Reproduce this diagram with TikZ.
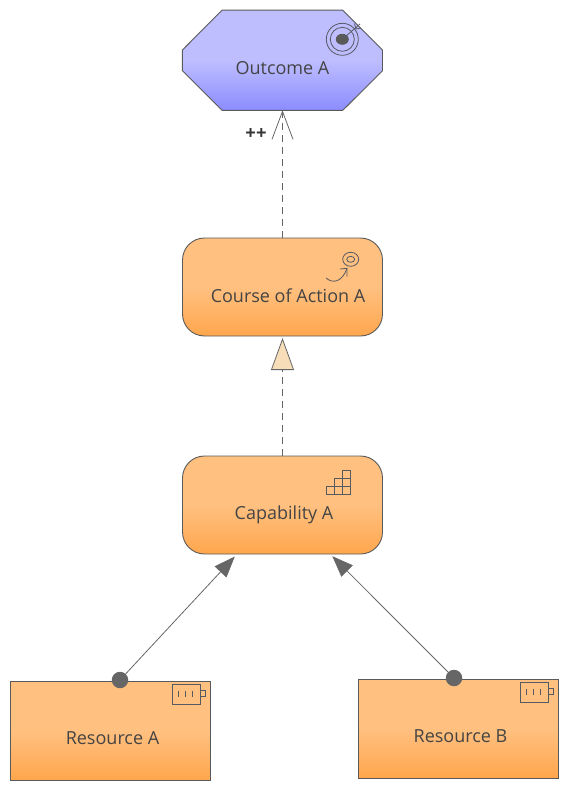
\documentclass[tikz,border=0pt]{standalone}
\usepackage{fontspec}
\setmainfont{Open Sans}
\usetikzlibrary{arrows.meta}
\definecolor{edgec}{HTML}{5A5A5A}
\definecolor{inkc}{HTML}{444444}
\definecolor{iconc}{HTML}{565A62}
\definecolor{orT}{HTML}{FFC080}
\definecolor{orB}{HTML}{FFA64D}
\definecolor{blT}{HTML}{BEBEFF}
\definecolor{blB}{HTML}{8C8CFF}
\definecolor{tri}{HTML}{F7DDB8}
\definecolor{dotc}{HTML}{666666}
\pgfdeclareverticalshading{orangeg}{100bp}{color(0bp)=(orB); color(25bp)=(orB); color(50bp)=(orT); color(100bp)=(orT)}
\pgfdeclareverticalshading{blueg}{100bp}{color(0bp)=(blB); color(25bp)=(blB); color(50bp)=(blT); color(100bp)=(blT)}
\tikzset{
  x=1pt,y=-1pt,
  element/.style={draw=edgec,line width=0.9pt,shade,shading=orangeg,minimum width=200pt,inner sep=0pt,outer sep=0pt},
  motivation/.style={element,rounded corners=22pt,minimum height=98pt},
  resource/.style={element,rectangle,minimum height=99pt},
  outcomebox/.style={rectangle,minimum width=200pt,minimum height=100pt,inner sep=0pt,outer sep=0pt},
  outcomeshape/.style={draw=edgec,line width=0.9pt,shade,shading=blueg},
  boxtext/.style={text=inkc,font=\fontsize{18}{20}\selectfont,inner sep=0pt,text height=12pt,text depth=4pt},
  iconline/.style={draw=iconc,line width=0.8pt},
  conn/.style={draw=dotc,line width=0.8pt},
  dashconn/.style={conn,dash pattern=on 7pt off 5pt},
  dotnode/.style={circle,fill=dotc,minimum size=16.5pt,inner sep=0pt},
  pics/battery/.style={code={
    \draw[iconline] (0,0) rectangle (28.5,20);
    \draw[iconline] (28.5,6) rectangle (33,12);
    \draw[iconline] (6,6.2) -- (6,12.2) (13,6.2) -- (13,12.2) (20,6.2) -- (20,12.2);
  }}
}
\begin{document}
\begin{tikzpicture}
\useasboundingbox (0,0) rectangle (578,800);
% elements
\path[outcomeshape] (222,10.2) -- (342.8,10.2) -- (382.5,50) -- (382.5,70.7) -- (342.8,110.3) -- (222,110.3) -- (182.4,70.7) -- (182.4,50) -- cycle;
\node[outcomebox,label={[boxtext,yshift=-10.3pt]center:Outcome A}] (outcome) at (282.5,60.2) {};
\node[motivation,label={[boxtext,xshift=5.5pt,yshift=-11pt]center:Course of Action A}] (course) at (282.5,287) {};
\node[motivation,label={[boxtext,xshift=1.5pt,yshift=-10.5pt]center:Capability A}] (capability) at (282.5,505) {};
\node[resource,label={[boxtext,xshift=2pt,yshift=-9.5pt]center:Resource A}] (resA) at (110.5,730.5) {};
\node[resource,label={[boxtext,xshift=2pt,yshift=-9.5pt]center:Resource B}] (resB) at (458.5,728.5) {};
% connector ends
\node[dotnode] (dotA) at (120,680) {};
\node[dotnode] (dotB) at (454,678) {};
\coordinate (capL) at (234.8,556.5);
\coordinate (capR) at (332.3,556.2);
\coordinate (courseIn) at ([yshift=-2pt]course.south);
% connectors
\draw[dashconn,-{Straight Barb[length=28pt,width=21pt,line width=0.8pt]}] (course.north) -- (outcome.south);
\draw[dashconn,-{Triangle[length=32pt,width=23pt,fill=tri,color=dotc,line width=0.8pt]}] (capability.north) -- (courseIn);
\draw[conn,-{Triangle[length=21pt,width=16pt,fill=dotc]}] (dotA) -- (capL);
\draw[conn,-{Triangle[length=21pt,width=16pt,fill=dotc]}] (dotB) -- (capR);
\node[font=\bfseries\fontsize{18.5}{18.5}\selectfont,text=inkc!80!black,inner sep=0pt] (plus) at (256,133.5) {++};
% outcome icon
\draw[iconline] (342.3,39.3) circle (16) (342.3,39.3) circle (12);
\fill[edgec] (342.3,39.3) ellipse (6.5 and 5.5);
\draw[iconline] (342.3,39.3) -- (360,24);
\draw[iconline] (354.5,23.5) -- (356,29) (361,28) -- (356,29);
% course of action icon
\draw[iconline] (350.7,259.3) ellipse (8 and 7) (350.7,259.3) ellipse (4 and 3);
\draw[iconline] (326,278) .. controls (333,284) and (342,282) .. (347,268.5);
\draw[iconline] (340,269) -- (347,268.3) -- (347,276.7);
% capability icon
\draw[iconline] (326.3,486.3) rectangle (350.3,494.3)
  (334.3,478.3) rectangle (350.3,486.3)
  (342.3,470.3) rectangle (350.3,478.3)
  (334.3,486.3) -- (334.3,494.3) (342.3,478.3) -- (342.3,494.3);
% battery icons
\pic at (172.3,684.3) {battery};
\pic at (520.3,682.3) {battery};
\end{tikzpicture}
\end{document}
